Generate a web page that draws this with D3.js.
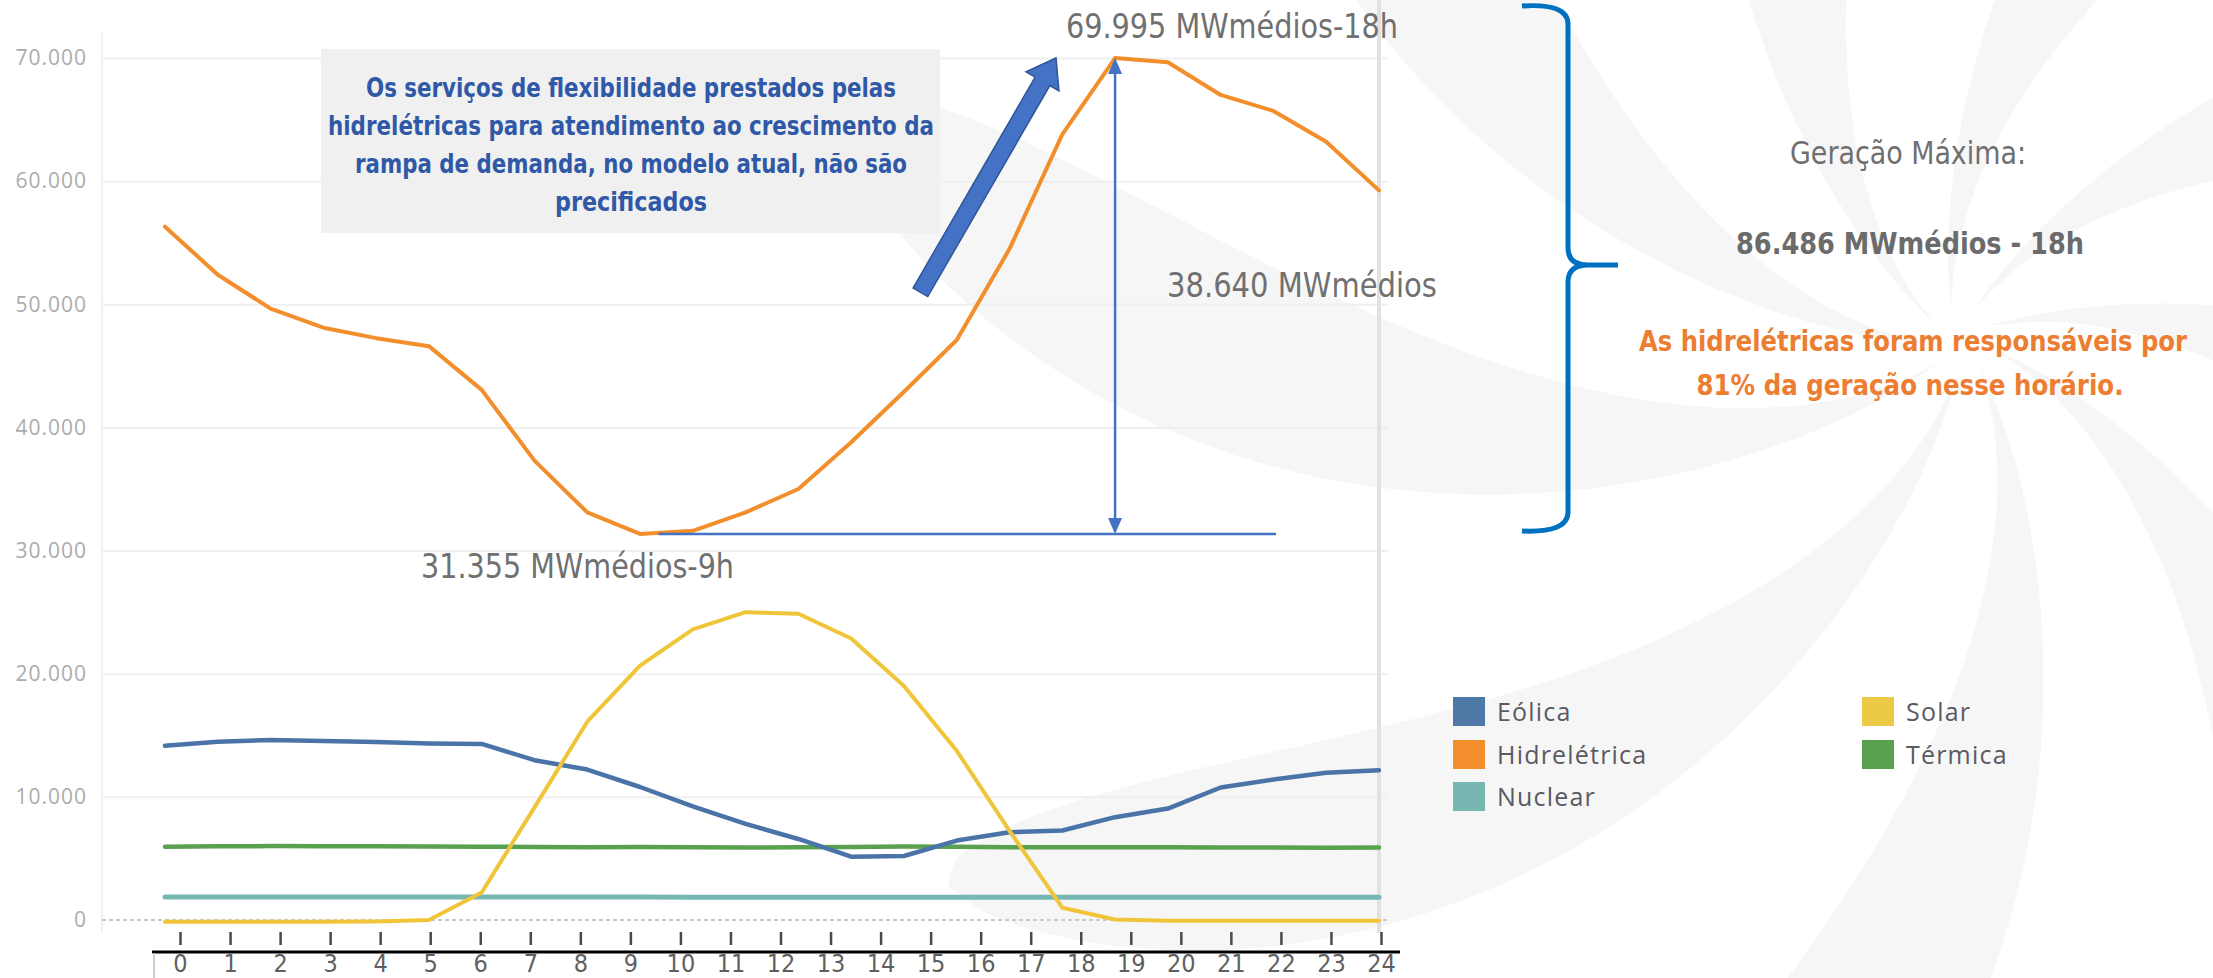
<!DOCTYPE html>
<html>
<head>
<meta charset="utf-8">
<script src="https://cdn.jsdelivr.net/npm/d3@7"></script>
<style>
  html, body { margin: 0; padding: 0; background: #ffffff; overflow: hidden; }
  svg { display: block; }
</style>
</head>
<body>
<svg id="chart" width="2213" height="978"></svg>
<script>
// ---------------- DATA ----------------
const hours = [0,1,2,3,4,5,6,7,8,9,10,11,12,13,14,15,16,17,18,19,20,21,22,23];
const xAxisLabels = [0,1,2,3,4,5,6,7,8,9,10,11,12,13,14,15,16,17,18,19,20,21,22,23,24];
const yTickValues = [0,10000,20000,30000,40000,50000,60000,70000];

const eolica       = [14150,14480,14610,14530,14450,14340,14300,12980,12220,10800,9220,7800,6580,5140,5200,6450,7130,7270,8350,9050,10760,11410,11960,12170];
const hidreletrica = [56300,52400,49650,48100,47250,46600,43050,37300,33100,31355,31600,33100,35000,38800,42900,47100,54500,63800,69995,69650,67000,65700,63200,59250];
const nuclear      = [1860,1860,1860,1860,1860,1860,1860,1860,1860,1860,1850,1850,1850,1850,1850,1850,1850,1850,1850,1850,1850,1850,1850,1850];
const solar        = [-150,-150,-150,-150,-120,0,2230,9150,16100,20650,23600,25000,24870,22860,19000,13740,7240,1000,40,-60,-60,-60,-60,-60];
const termica      = [5950,5980,6000,5990,5980,5970,5950,5930,5900,5920,5900,5890,5900,5930,5960,5940,5910,5900,5900,5910,5890,5880,5870,5880];

const seriesNames  = ["Eólica","Hidrelétrica","Nuclear","Solar","Térmica"];
const seriesColors = ["#4e79a7","#f28e2b","#76b7b2","#edc948","#59a14f"];
const lineColors   = ["#4a74a8","#f28e2b","#76b7b2","#f0c53a","#59a14f"];
const seriesValues = [eolica, hidreletrica, nuclear, solar, termica];
const drawOrder    = ["Térmica","Nuclear","Eólica","Hidrelétrica","Solar"];

const minHydro = 31355, minHour = 9;
const maxHydro = 69995, maxHour = 18;
const rampValue = 38640;
const maxTotal = 86486, maxTotalHour = 18;
const hydroShare = 81;

const boxLines = [
  "Os serviços de flexibilidade prestados pelas",
  "hidrelétricas para atendimento ao crescimento da",
  "rampa de demanda, no modelo atual, não são",
  "precificados"
];

// ---------------- SETUP ----------------
const svg = d3.select("#chart");
const NARROW = "'Liberation Sans Narrow','Arial Narrow','DejaVu Sans Condensed',sans-serif";
const OPEN = "'Open Sans','Noto Sans',sans-serif";
const locale = d3.formatLocale({decimal: ",", thousands: ".", grouping: [3], currency: ["R$", ""]});
const fmt = locale.format(",.0f");

const x  = d3.scaleLinear().domain([0, 23]).range([165, 1379]);
const xt = d3.scaleLinear().domain([0, 24]).range([180, 1381]);
const y  = d3.scaleLinear().domain([0, 70000]).range([920, 58]);

// ---------------- WATERMARK (decorative swirl) ----------------
const wm = svg.append("g").attr("fill", "#f6f6f6");
const wmCx = 1960, wmCy = 340;
for (let k = 0; k < 9; k++) {
  const theta = k * 2 * Math.PI / 9 + 0.2;
  const left = [], right = [];
  const n = 60, r0 = 30, R = 1150, twist = 1.05, wmax = 0.15;
  for (let i = 0; i <= n; i++) {
    const t = i / n;
    const r = r0 + (R - r0) * t;
    const phi = theta + twist * Math.sqrt(t);
    const w = wmax * Math.pow(Math.sin(Math.PI * t), 0.6);
    left.push([wmCx + r * Math.cos(phi - w), wmCy + r * Math.sin(phi - w)]);
    right.push([wmCx + r * Math.cos(phi + w), wmCy + r * Math.sin(phi + w)]);
  }
  const pts = left.concat(right.reverse());
  wm.append("path").attr("d", d3.line().curve(d3.curveCatmullRomClosed)(pts));
}

// ---------------- GRID & AXES ----------------
const plotLeft = 102, plotRight = 1388;

const grid = svg.append("g").attr("transform", `translate(${plotLeft},0)`)
  .call(d3.axisLeft(y).tickValues(yTickValues.filter(v => v > 0)).tickSize(-(plotRight - plotLeft)).tickFormat(""));
grid.select(".domain").remove();
grid.selectAll("line").attr("stroke", "#efefef").attr("stroke-width", 2);

svg.append("line").attr("x1", plotLeft).attr("x2", plotLeft).attr("y1", 32).attr("y2", 932)
  .attr("stroke", "#f0f0f0").attr("stroke-width", 2);

svg.append("line").attr("x1", plotLeft).attr("x2", plotRight).attr("y1", y(0)).attr("y2", y(0))
  .attr("stroke", "#c9c9c9").attr("stroke-width", 2).attr("stroke-dasharray", "4,3");

svg.append("line").attr("x1", x(23)).attr("x2", x(23)).attr("y1", 0).attr("y2", 933)
  .attr("stroke", "#e1e1e1").attr("stroke-width", 4);

const yAx = svg.append("g").attr("transform", `translate(${plotLeft},0)`)
  .call(d3.axisLeft(y).tickValues(yTickValues).tickSize(0).tickPadding(15).tickFormat(fmt));
yAx.select(".domain").remove();
yAx.selectAll("text").attr("fill", "#acacac").style("font-family", OPEN)
  .style("font-size", "21px").style("letter-spacing", "1px");

// ---------------- SERIES LINES ----------------
const line = d3.line().x((d, i) => x(hours[i])).y(d => y(d)).curve(d3.curveLinear);
const widths = {"Eólica": 4.5, "Hidrelétrica": 4, "Nuclear": 5, "Solar": 4, "Térmica": 4.5};
drawOrder.forEach(name => {
  const i = seriesNames.indexOf(name);
  svg.append("path").datum(seriesValues[i])
    .attr("d", line).attr("fill", "none")
    .attr("stroke", lineColors[i]).attr("stroke-width", widths[name])
    .attr("stroke-linejoin", "round").attr("stroke-linecap", "round");
});

// ---------------- X AXIS (separate hour axis below) ----------------
const tickG = svg.append("g").attr("transform", "translate(0,932)")
  .call(d3.axisBottom(xt).tickValues(xAxisLabels).tickSize(13).tickFormat(""));
tickG.select(".domain").remove();
tickG.selectAll("line").attr("stroke", "#4a4a4a").attr("stroke-width", 2.5);

svg.append("line").attr("x1", 152).attr("x2", 1400).attr("y1", 952).attr("y2", 952)
  .attr("stroke", "#000").attr("stroke-width", 3);
svg.append("line").attr("x1", 154).attr("x2", 154).attr("y1", 953).attr("y2", 978)
  .attr("stroke", "#cfcfcf").attr("stroke-width", 2);

const xAx = svg.append("g").attr("transform", "translate(0,952)")
  .call(d3.axisBottom(xt).tickValues(xAxisLabels).tickSize(0).tickFormat(d => String(d)));
xAx.select(".domain").remove();
xAx.selectAll("text").attr("y", 20).attr("dy", 0).attr("fill", "#5f5f5f")
  .style("font-family", NARROW).style("font-size", "25px");

// helper: fit a text to a target width; shrink the font first if its natural width is too large
function fitText(sel, target, maxRatio) {
  sel.each(function () {
    const node = this;
    const fs = parseFloat(node.style.fontSize);
    const natural = node.getComputedTextLength();
    if (natural > target * maxRatio) {
      node.style.fontSize = (fs * target * maxRatio / natural).toFixed(2) + "px";
    }
    node.setAttribute("textLength", target);
    node.setAttribute("lengthAdjust", "spacingAndGlyphs");
  });
}

// ---------------- ANNOTATIONS ----------------
svg.append("rect").attr("x", 321).attr("y", 49).attr("width", 619).attr("height", 184).attr("fill", "#f0f0f0");
const boxWidths = [530, 606, 552, 152];
svg.append("g").selectAll("text").data(boxLines).join("text")
  .attr("x", 631).attr("y", (d, i) => 97 + i * 38)
  .attr("text-anchor", "middle")
  .attr("fill", "#2f58a6").style("font-family", NARROW).style("font-weight", "bold").style("font-size", "29px")
  .text(d => d)
  .each(function (d, i) { fitText(d3.select(this), boxWidths[i], 1.1); });

(function () {
  const B = [920.4, 292.3], T = [1056, 58];
  const dx = T[0] - B[0], dy = T[1] - B[1], L = Math.hypot(dx, dy);
  const u = [dx / L, dy / L], nrm = [-u[1], u[0]];
  const hl = 27, hw = 19, sw = 8.5;
  const Hc = [T[0] - hl * u[0], T[1] - hl * u[1]];
  const p = (P, s) => [P[0] + s * nrm[0], P[1] + s * nrm[1]];
  const pts = [p(B, -sw), p(Hc, -sw), p(Hc, -hw), T, p(Hc, hw), p(Hc, sw), p(B, sw)];
  svg.append("polygon").attr("points", pts.map(q => q.join(",")).join(" "))
    .attr("fill", "#4472c4").attr("stroke", "#2f5597").attr("stroke-width", 1.5);
})();

const ax = x(maxHour), yTop = y(maxHydro), yBot = y(minHydro);
svg.append("line").attr("x1", ax).attr("x2", ax).attr("y1", yTop + 10).attr("y2", yBot - 10)
  .attr("stroke", "#4472c4").attr("stroke-width", 2.5);
svg.append("polygon").attr("points", `${ax},${yTop} ${ax - 7},${yTop + 16} ${ax + 7},${yTop + 16}`).attr("fill", "#4472c4");
svg.append("polygon").attr("points", `${ax},${yBot} ${ax - 7},${yBot - 16} ${ax + 7},${yBot - 16}`).attr("fill", "#4472c4");
svg.append("line").attr("x1", x(minHour + 0.35)).attr("x2", x(21.05)).attr("y1", yBot).attr("y2", yBot)
  .attr("stroke", "#4472c4").attr("stroke-width", 2.5);

const grayLabel = (txt, xx, yy, w) => {
  const t = svg.append("text").attr("x", xx).attr("y", yy)
    .attr("fill", "#707070").style("font-family", NARROW).style("font-size", "33px").text(txt);
  fitText(t, w, 1.1);
};
grayLabel(`${fmt(maxHydro)} MWmédios-${maxHour}h`, 1066, 38, 332);
grayLabel(`${fmt(rampValue)} MWmédios`, 1167, 297, 270);
grayLabel(`${fmt(minHydro)} MWmédios-${minHour}h`, 421, 578, 313);

svg.append("path")
  .attr("d", "M1522,6 Q1568,3 1568,24 L1568,248 Q1568,265 1588,265 L1618,265 M1588,265 Q1568,265 1568,282 L1568,512 Q1568,533 1522,531")
  .attr("fill", "none").attr("stroke", "#0070c0").attr("stroke-width", 5).attr("stroke-linecap", "butt");

const t1 = svg.append("text").attr("x", 1908).attr("y", 164).attr("text-anchor", "middle")
  .attr("fill", "#6f6f6f").style("font-family", NARROW).style("font-size", "32px")
  .text("Geração Máxima:");
fitText(t1, 236, 1.08);
const t2 = svg.append("text").attr("x", 1910).attr("y", 254).attr("text-anchor", "middle")
  .attr("fill", "#6b6b6b").style("font-family", NARROW).style("font-weight", "bold").style("font-size", "33px")
  .text(`${fmt(maxTotal)} MWmédios - ${maxTotalHour}h`);
fitText(t2, 348, 1.08);
const orangeLines = [
  {t: "As hidrelétricas foram responsáveis por", y: 351, w: 548, cx: 1913},
  {t: `${hydroShare}% da geração nesse horário.`, y: 395, w: 427, cx: 1910}
];
svg.append("g").selectAll("text").data(orangeLines).join("text")
  .attr("x", d => d.cx).attr("y", d => d.y).attr("text-anchor", "middle")
  .attr("fill", "#ed7d31").style("font-family", NARROW).style("font-weight", "bold").style("font-size", "32px")
  .text(d => d.t)
  .each(function (d) { fitText(d3.select(this), d.w, 1.04); });

// ---------------- LEGEND ----------------
const legCols = [1453, 1862], legRows = [697, 740, 782];
const leg = svg.append("g").selectAll("g").data(seriesNames).join("g")
  .attr("transform", (d, i) => `translate(${legCols[i < 3 ? 0 : 1]},${legRows[i < 3 ? i : i - 3]})`);
leg.append("rect").attr("width", 32).attr("height", 29).attr("fill", (d, i) => seriesColors[i]);
leg.append("text").attr("x", 44).attr("y", 24).text(d => d)
  .attr("fill", "#5a5a62").style("font-family", OPEN).style("font-size", "25px").style("letter-spacing", "1.2px");
</script>
</body>
</html>
